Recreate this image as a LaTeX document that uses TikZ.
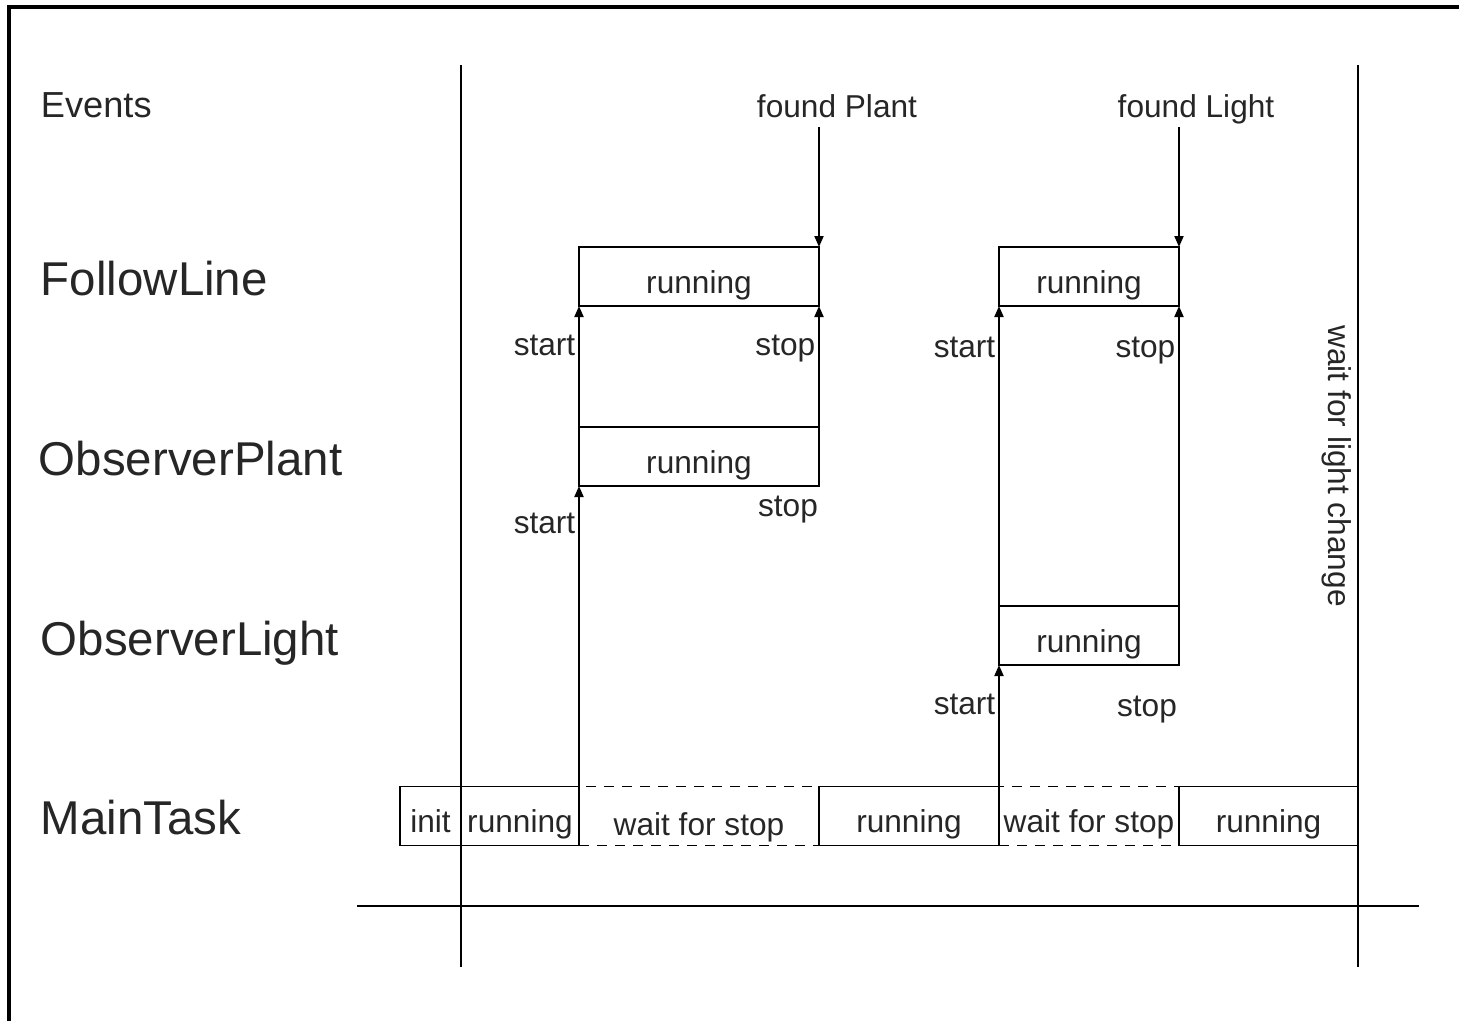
\documentclass[tikz,border=0pt]{standalone}
\usepackage{fontspec}
\setmainfont{Liberation Sans}
\usetikzlibrary{arrows.meta,calc}

\begin{document}
\begin{tikzpicture}[>={Triangle[length=1.1mm,width=0.9mm]}, x=0.1mm, y=-0.1mm,
		line width=0.55pt,
		lbl/.style={font=\fontsize{9}{11}\selectfont, text=black!85, inner sep=0.5pt},
		row/.style={font=\fontsize{13.5}{16}\selectfont, text=black!85, anchor=base west, inner sep=0pt},
		box/.style={draw, outer sep=0pt, minimum height=5.9mm, inner sep=0pt, text height=3.3mm, text depth=0pt,
			font=\fontsize{9}{11}\selectfont, text=black!85},
		waitbox/.style={box, dash pattern=on 1mm off 0.8mm}]
		\useasboundingbox (0,0) rectangle (1459,1021);
		\draw[line width=0.9pt] (9,1021) -- (9,7) -- (1459,7);
		% time axis
		\draw (461,65) -- (461,967);
		\draw (1358,65) -- (1358,967);
		\draw (357,906) -- (1419,906);
		% rows
		\node[row, font=\fontsize{10.3}{12}\selectfont] (ev) at (40,117) {Events};
		\node[row] (rfl) at (40,295) {FollowLine};
		\node[row] (rop) at (38,475) {ObserverPlant};
		\node[row] (rol) at (40,655) {ObserverLight};
		\node[row] (rmt) at (40,834) {MainTask};
		% task states
		\node[box, minimum width=24mm] (fl1) at (699,276.5) {running};
		\node[box, minimum width=18mm] (fl2) at (1089,276.5) {running};
		\node[box, minimum width=24mm] (op) at (699,456.5) {running};
		\node[box, minimum width=18mm] (ol) at (1089,635.5) {running};
		\node[waitbox, minimum width=24mm] (wait1) at (699,816) {\raisebox{-0.3mm}{wait for stop}};
		\node[waitbox, minimum width=18mm] (wait2) at (1089,816) {wait for stop};
		\node[box, minimum width=6.1mm] (init) at (430.5,816) {init};
		\node[box, minimum width=11.8mm] (mt1) at (520,816) {running};
		\node[box, minimum width=18mm] (mt2) at (909,816) {running};
		\node[box, minimum width=17.9mm] (mt3) at (1268.5,816) {running};
		% events
		\node[lbl, anchor=base] (fp) at (837,117) {found Plant};
		\node[lbl, anchor=base] (flt) at (1196,117) {found Light};
		\draw[->] (fl1.north east |- fp.base) ++(0,10) -- (fl1.north east);
		\draw[->] (fl2.north east |- flt.base) ++(0,10) -- (fl2.north east);
		% start / stop
		\draw[->] (mt1.north east) -- (op.south west);
		\draw[->] (op.north west) -- (fl1.south west);
		\draw[->] (op.north east) -- (fl1.south east);
		\draw[->] (wait2.north west) -- (ol.south west);
		\draw[->] (ol.north west) -- (fl2.south west);
		\draw[->] (ol.north east) -- (fl2.south east);
		\node[lbl, anchor=base east] (st1) at (578,533) {start};
		\node[lbl, anchor=base east] (st2) at (578,355) {start};
		\node[lbl, anchor=base east] (sp1) at (818,355) {stop};
		\node[lbl, anchor=base] (sp2) at (788,516) {stop};
		\node[lbl, anchor=base east] (st3) at (998,714) {start};
		\node[lbl, anchor=base east] (st4) at (998,357) {start};
		\node[lbl, anchor=base east] (sp3) at (1178,357) {stop};
		\node[lbl, anchor=base] (sp4) at (1147,716) {stop};
		\node[lbl, rotate=-90] (wl) at (1337,466) {wait for light change};
	\end{tikzpicture}
\end{document}
